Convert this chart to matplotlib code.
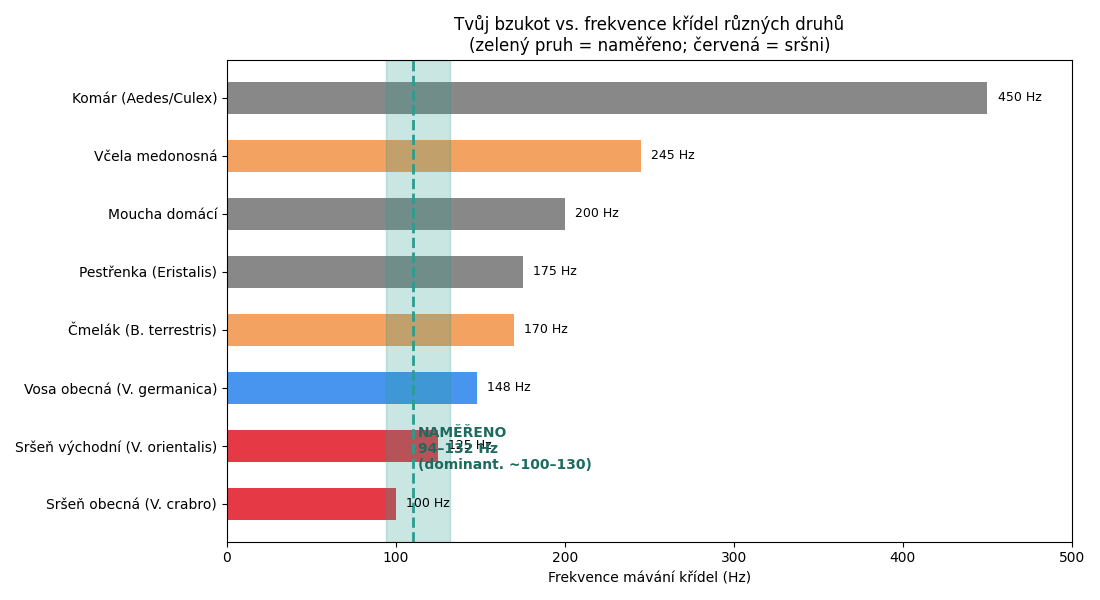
import matplotlib.pyplot as plt

species = [
    "Sršeň obecná (V. crabro)",
    "Sršeň východní (V. orientalis)",
    "Vosa obecná (V. germanica)",
    "Čmelák (B. terrestris)",
    "Pestřenka (Eristalis)",
    "Moucha domácí",
    "Včela medonosná",
    "Komár (Aedes/Culex)",
]
freq_hz = [100, 125, 148, 170, 175, 200, 245, 450]
bar_colors = ["#e63946", "#e63946", "#4895ef", "#f4a261", "#888888",
              "#888888", "#f4a261", "#888888"]

measured_lo = 94
measured_hi = 132
measured_peak = 110

fig, ax = plt.subplots(figsize=(11, 6), dpi=100)

y = range(len(species))
ax.barh(y, freq_hz, height=0.55, color=bar_colors)
for i, v in enumerate(freq_hz):
    ax.text(v + 6, i, f"{v} Hz", va="center", fontsize=9)

ax.axvspan(measured_lo, measured_hi, color="#2a9d8f", alpha=0.25)
ax.axvline(measured_peak, color="#2a9d8f", linestyle="--", linewidth=2)
# same spot as the reference, overlapping the 125 Hz label
ax.text(measured_peak + 3, 0.95, "NAMĚŘENO\n94–132 Hz\n(dominant. ~100–130)",
        va="center", ha="left", fontsize=10, fontweight="bold", color="#1d6b5f")

ax.set_yticks(list(y))
ax.set_yticklabels(species)
ax.set_xlim(0, 500)
ax.set_xlabel("Frekvence mávání křídel (Hz)")
ax.set_title("Tvůj bzukot vs. frekvence křídel různých druhů\n"
             "(zelený pruh = naměřeno; červená = sršni)")

plt.tight_layout()
plt.savefig("out.png")
